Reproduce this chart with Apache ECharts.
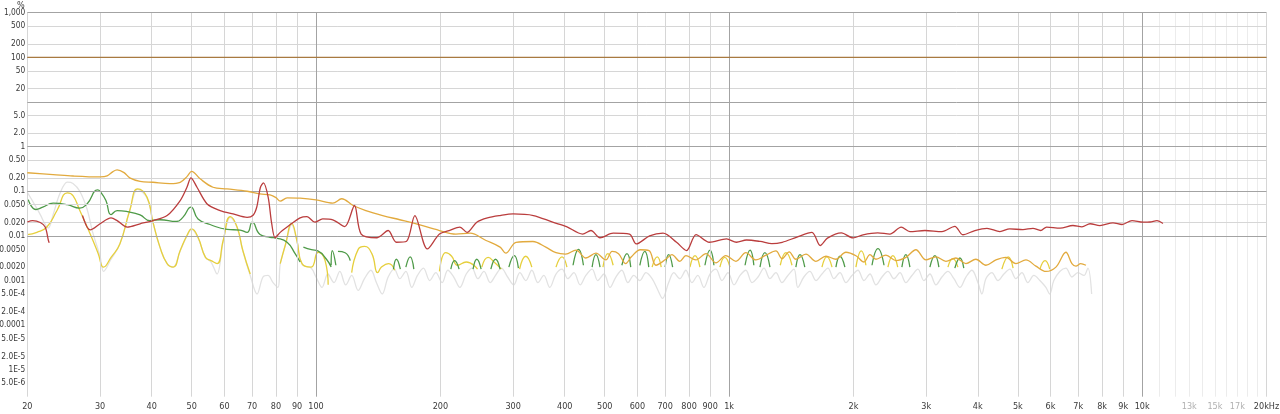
<!DOCTYPE html>
<html><head><meta charset="utf-8">
<script src="https://cdn.jsdelivr.net/npm/echarts@6/dist/echarts.min.js"></script>
<style>html,body{margin:0;padding:0;background:#fff}#c{width:1280px;height:414px}</style>
</head><body><div id="c"></div>
<script>
// ---------- tick labels ----------
const xTickValues = [20,30,40,50,60,70,80,90,100,200,300,400,500,600,700,800,900,1000,2000,3000,4000,5000,6000,7000,8000,9000,10000,13000,15000,17000,20000];
const xTickLabels = ['20','30','40','50','60','70','80','90','100','200','300','400','500','600','700','800','900','1k','2k','3k','4k','5k','6k','7k','8k','9k','10k','13k','15k','17k','20kHz'];
const xFaintLabels = ['13k','15k','17k'];
const yTickValues = [1000,500,200,100,50,20,5,2,1,0.5,0.2,0.1,0.05,0.02,0.01,0.005,0.002,0.001,5e-4,2e-4,1e-4,5e-5,2e-5,1e-5,5e-6];
const yTickLabels = ['1,000','500','200','100','50','20','5.0','2.0','1','0.50','0.20','0.1','0.050','0.020','0.01','0.0050','0.0020','0.001','5.0E-4','2.0E-4','0.0001','5.0E-5','2.0E-5','1E-5','5.0E-6'];
// ---------- grid lines ----------
const xGridMajor = [100,1000,10000];
const xGridMinor = [20,30,40,50,60,70,80,90,200,300,400,500,600,700,800,900,2000,3000,4000,5000,6000,7000,8000,9000,20000];
const xGridFaint = [11000,12000,13000,14000,15000,16000,17000,18000,19000];
const yGridMajor = [1000,100,10,1,0.1,0.01,0.001,1e-4,1e-5];
const yGridMinor = [500,200,50,20,5,2,0.5,0.2,0.05,0.02,0.005,0.002,5e-4,2e-4,5e-5,2e-5,5e-6];

// ---------- series (frequency Hz, distortion %) ----------
const fundamental = [[[20,100],[20000,100]]];

const thd = [[
 [20,0.26],[23.1,0.237],[25.8,0.22],[30,0.21],[31.2,0.22],[32.25,0.276],[33.0,0.30],[34.3,0.262],[35.4,0.20],[37.5,0.167],[40.3,0.159],[44.3,0.149],[46.9,0.159],[48.7,0.213],[50.0,0.28],[52.4,0.19],[56.3,0.123],[60.9,0.113],[68.1,0.10],[73.2,0.087],[77.4,0.083],[80,0.072],[81.9,0.06],[85.1,0.071],[91.5,0.07],[100,0.064],[109.8,0.054],[115.4,0.068],[123,0.048],[132,0.037],[145,0.0286],[159.5,0.023],[174,0.0188],[199,0.0132],[218,0.011],[236,0.0115],[258,0.0079],[279,0.0056],[288,0.0041],[305,0.0072],[335,0.0075],[360,0.0056],[381,0.0042],[402,0.0039],
 [426,0.0048],[450,0.0032],[476,0.0041],[503,0.0029],[521,0.0045],[540,0.0040],[562,0.0024],[580,0.0034],[610,0.0049],[640,0.0047],[665,0.0022],[703,0.0030],[727,0.0038],[760,0.0027],[786,0.0036],[831,0.0029],[879,0.0040],[929,0.0025],[982,0.0036],[1039,0.0027],[1098,0.0042],[1161,0.0029],[1228,0.0037],[1298,0.0046],[1343,0.0031],[1398,0.0044],[1451,0.0030],[1535,0.0039],[1623,0.0027],[1716,0.0035],[1814,0.0030],[1918,0.0043],[2028,0.0036],[2121,0.0026],[2193,0.0038],[2267,0.0030],[2397,0.0037],[2534,0.0028],[2679,0.0033],[2833,0.0049],[2996,0.0029],[3167,0.0034],[3349,0.0027],[3541,0.0032],[3744,0.0024],[3958,0.0030],[4185,0.0022],[4426,0.0029],[4680,0.0033],[4947,0.0024],[5231,0.0029],[5531,0.0021],[5848,0.0016],[6183,0.0020],[6537,0.0043],[6760,0.0024],[6912,0.0021],[7100,0.0024],[7310,0.0022]
]];

const h2 = [
 [[20,0.0205],[20.6,0.022],[21.5,0.020],[22.1,0.0158],[22.5,0.0079],[22.6,0.007]],
 [[27.2,0.0286],[27.9,0.0158],[28.4,0.0137],[30,0.0187],[31.9,0.0253],[33.0,0.022],[34.9,0.0158],[37.5,0.0187],[40.3,0.022],[43.6,0.0286],[46.9,0.062],[48.7,0.123],[49.8,0.20],[51.5,0.123],[54.5,0.052],[58.6,0.037],[63.0,0.031],[68.1,0.026],[70.4,0.029],[71.9,0.045],[73.3,0.12],[74.6,0.154],[76.6,0.073],[78.1,0.019],[79.6,0.0091],[81.9,0.012],[85.1,0.0158],[91.5,0.0253],[95.1,0.027],[99.4,0.0203],[103.8,0.024],[109.8,0.023],[117.4,0.0162],[123.9,0.048],[128.6,0.011],[140.5,0.0091],[149.5,0.0132],[156.5,0.0072],[165.7,0.0076],[173.5,0.0286],[186,0.0051],[199,0.011],[210,0.0132],[223,0.0158],[232,0.012],[245,0.0203],[260,0.0253],[279,0.0286],[300,0.031],[336,0.0286],[374,0.0203],[404,0.0162],[442,0.011],[463,0.0132],[487,0.0091],[524,0.0115],[574,0.011],[596,0.0066],[642,0.010],[692,0.0115],[746,0.0072],[789,0.0047],[832,0.0107],[896,0.0072],[986,0.0086],[1042,0.0072],[1102,0.0081],[1190,0.0075],[1270,0.0067],[1345,0.0072],[1455,0.0093],[1587,0.012],[1662,0.0061],[1730,0.0089],[1870,0.0117],[1995,0.009],[2110,0.0106],[2290,0.0117],[2450,0.011],[2610,0.0158],[2740,0.0125],[2980,0.0132],[3275,0.0125],[3520,0.0164],[3680,0.0106],[3936,0.0132],[4210,0.0148],[4526,0.0125],[4780,0.0144],[5145,0.0138],[5440,0.0148],[5680,0.0132],[5870,0.0158],[6330,0.015],[6800,0.0171],[7150,0.016],[7480,0.0187],[7900,0.017],[8500,0.0196],[8940,0.018],[9450,0.0221],[10050,0.0203],[10450,0.0205],[10860,0.022],[11230,0.019]]
];

const h3 = [
 [[20.1,0.065],[21.0,0.039],[21.8,0.044],[23.1,0.054],[25.0,0.050],[26.8,0.042],[27.9,0.052],[29.6,0.107],[30,0.10],[31.0,0.062],[31.9,0.030],[33.0,0.037],[34.9,0.035],[37.5,0.0295],[39.6,0.022],[41.9,0.023],[45.9,0.021],[47.6,0.026],[49.8,0.044],[51.8,0.024],[55.4,0.018],[60.9,0.014],[65.5,0.0135],[68.1,0.012],[70.1,0.0203],[73.2,0.0107],[77.4,0.0093],[80.3,0.0089],[85.1,0.0072],[89.0,0.004],[91.5,0.0026]],
 [[93.2,0.0056],[97.5,0.0049],[101,0.0046],[106,0.0030],[108.8,0.002]],
 [[108.8,0.0022],[109.5,0.0047],[111.7,0.0022]],
 [[113,0.0045],[117.6,0.0042],[121,0.0028]],
 [[154,0.0018],[156.5,0.003],[160,0.0018]],
 [[165,0.0020],[169,0.0034],[172.5,0.0018]],
 [[212,0.0018],[216.5,0.0028],[222,0.0018]],
 [[240,0.0018],[245,0.003],[251,0.0018]],
 [[265,0.0018],[272,0.003],[279,0.0018]],
 [[293,0.0020],[302,0.0036],[309,0.0019]],
 [[419,0.0022],[432,0.005],[444,0.0022]],
 [[466,0.0020],[476,0.0038],[487,0.0020]],
 [[550,0.0022],[566,0.0040],[578,0.0020]],
 [[608,0.0022],[625,0.0045],[639,0.0020]],
 [[700,0.0020],[714,0.0038],[730,0.0020]],
 [[874,0.0022],[899,0.0048],[919,0.0022]],
 [[1093,0.0022],[1124,0.0048],[1148,0.0022]],
 [[1188,0.0020],[1221,0.0042],[1256,0.0020]],
 [[1451,0.0020],[1485,0.0038],[1525,0.0020]],
 [[1814,0.0020],[1855,0.0035],[1907,0.0020]],
 [[2218,0.0022],[2293,0.0052],[2372,0.0022]],
 [[2620,0.0020],[2679,0.0038],[2740,0.0020]],
 [[3063,0.0020],[3150,0.0036],[3220,0.0020]],
 [[3520,0.0019],[3621,0.0032],[3700,0.0019]]
];

const h4 = [
 [[20,0.0107],[21.1,0.012],[22.3,0.0158],[23.6,0.037],[25.0,0.092],[25.8,0.08],[26.8,0.037],[28.4,0.011],[29.7,0.004],[30.6,0.002],[31.9,0.0033],[33.5,0.0066],[35.4,0.037],[37.0,0.113],[39.0,0.073],[40.3,0.0203],[41.9,0.0056],[43.6,0.0024],[45.1,0.002],[46.9,0.0047],[48.7,0.0102],[50.0,0.0144],[51.8,0.0093],[54.0,0.0033],[55.7,0.0028],[57.6,0.0024],[59.6,0.0079],[62.0,0.027],[64.4,0.0158],[66.5,0.0047],[69.3,0.0014]],
 [[81.9,0.0024],[84.4,0.0066],[87.3,0.019],[89.9,0.0079],[92.5,0.0024],[97.3,0.002],[101.2,0.0043],[105.2,0.0028],[107,0.0008]],
 [[122,0.0015],[126.5,0.005],[131,0.0058],[136.5,0.004],[141,0.0015],[144,0.0020],[150,0.0024],[155,0.0017]],
 [[199,0.0016],[206,0.0042],[213,0.0035],[220,0.0022],[231,0.0026],[246,0.0018]],
 [[252,0.0020],[261,0.0033],[271,0.0025],[281,0.0018]],
 [[311,0.0018],[322,0.0035],[333,0.0020]],
 [[381,0.0020],[394,0.0034],[405,0.0020]],
 [[495,0.0020],[509,0.0040],[524,0.0022]],
 [[651,0.0020],[670,0.0034],[685,0.0020]],
 [[804,0.0020],[827,0.0036],[850,0.0020]],
 [[950,0.0020],[976,0.0033],[1005,0.0020]],
 [[1330,0.0022],[1373,0.0042],[1420,0.0022]],
 [[1678,0.0020],[1725,0.0034],[1775,0.0020]],
 [[2028,0.0020],[2090,0.0046],[2144,0.0022]],
 [[2424,0.0020],[2492,0.0036],[2560,0.0020]],
 [[3387,0.0020],[3480,0.0031],[3580,0.0020]],
 [[4575,0.0018],[4740,0.0034],[4870,0.0019]],
 [[5655,0.0018],[5820,0.0028],[5973,0.0018]]
];

const h5 = [[
 [20,0.095],[20.6,0.06],[21.5,0.03],[22.1,0.018],[22.5,0.015],[23.1,0.03],[24.0,0.09],[25.0,0.16],[25.8,0.15],[26.8,0.10],[27.9,0.04],[28.8,0.012],[30,0.0035],[30.6,0.0016],[31.9,0.003],[33.5,0.0066],[35.4,0.037],[37.0,0.11],[39.0,0.07],[40.3,0.02],[41.9,0.0055],[43.6,0.0024],[45.1,0.002],[46.9,0.0046],[48.7,0.01],[50.0,0.014],[51.8,0.009],[54.0,0.0033],[55.7,0.0026],[57.6,0.0014],[59.6,0.0075],[62.0,0.026],[64.4,0.0155],[66.5,0.0046],[69.3,0.0013],[72.0,0.0005],[74.4,0.0012],[76.5,0.0013],[78.7,0.0009],[80.9,0.0007],[81.9,0.0023],[84.4,0.0064],[87.3,0.018],[89.9,0.0077],[92.5,0.0023],[97.3,0.0019],[100,0.0012],
 [103.4,0.0007],[106.8,0.0014],[110.5,0.0009],[114.2,0.0016],[118,0.0008],[122,0.0013],[126.5,0.0006],[131,0.0011],[135.8,0.0017],[140,0.0009],[144.6,0.0005],[149.5,0.0012],[154.7,0.0018],[159.5,0.0011],[165,0.0016],[170.5,0.0007],[176,0.0013],[182,0.0019],[188.5,0.0010],[195,0.0015],[202,0.0009],[208.5,0.0017],[215.5,0.0012],[223,0.0007],[231,0.0014],[238.5,0.0019],[246.5,0.0011],[255,0.0016],[264,0.0009],[272,0.0013],[281,0.0019],[291,0.0012],[301,0.0008],[311.5,0.0015],[322,0.0010],[333,0.0017],[344.5,0.0009],[356,0.0013],[368,0.0007],[381,0.0014],[394,0.0018],[407,0.0011],[421,0.0015],[436,0.0008],[450,0.0013],[466,0.0018],[481,0.0010],[498,0.0014],[515,0.0007],[532,0.0012],[550,0.0017],[569,0.0009],[588,0.0013],[608,0.0010],[629,0.0015],[651,0.0011],[673,0.0006],[690,0.0004],[714,0.0009],[735,0.0015],[760,0.0011],[786,0.0017],[813,0.0009],[840,0.0013],[869,0.0007],[899,0.0014],[929,0.0018],[961,0.0010],[994,0.0015],[1028,0.0008],[1063,0.0013],[1098,0.0017],[1136,0.0009],[1175,0.0012],[1215,0.0019],[1256,0.0011],[1298,0.0015],[1343,0.0009],[1388,0.0013],[1436,0.0018],[1467,0.0007],[1517,0.0012],[1569,0.0016],[1623,0.0010],[1678,0.0014],[1735,0.0019],[1794,0.0011],[1855,0.0015],[1918,0.0009],[1984,0.0013],[2051,0.0017],[2121,0.0010],[2193,0.0014],[2267,0.0008],[2345,0.0012],[2424,0.0016],[2507,0.0011],[2592,0.0015],[2679,0.0009],[2771,0.0013],[2865,0.0018],[2963,0.0010],[3063,0.0014],[3167,0.0008],[3275,0.0012],[3387,0.0016],[3502,0.0011],[3621,0.0007],[3744,0.0012],[3871,0.0017],[4003,0.0009],[4093,0.0005],[4185,0.0011],[4327,0.0015],[4475,0.0010],[4627,0.0014],[4784,0.0018],[4947,0.0011],[5115,0.0015],[5289,0.0009],[5469,0.0013],[5655,0.0010],[5848,0.0007],[5973,0.0005],[6111,0.0010],[6318,0.0016],[6537,0.0019],[6760,0.0012],[6990,0.0015],[7228,0.0013],[7390,0.0019],[7546,0.0005]
]];

// ---------- build ----------
function joinSegments(segs){
  const out=[];
  segs.forEach((s,i)=>{ if(i>0) out.push([s[0][0], null]); s.forEach(p=>out.push(p)); });
  return out;
}
const COL = {grid:'#d6d6d6', major:'#a3a3a3', faint:'#ececec', text:'#3a3a3a', faintText:'#b0b0b0'};
const gridLines = [];
xGridMinor.forEach(v=>gridLines.push({xAxis:v, lineStyle:{color:COL.grid,width:1,type:'solid'}}));
xGridFaint.forEach(v=>gridLines.push({xAxis:v, lineStyle:{color:COL.faint,width:1,type:'solid'}}));
yGridMinor.forEach(v=>gridLines.push({yAxis:v, lineStyle:{color:COL.grid,width:1,type:'solid'}}));
xGridMajor.forEach(v=>gridLines.push({xAxis:v, lineStyle:{color:COL.major,width:1,type:'solid'}}));
yGridMajor.forEach(v=>gridLines.push({yAxis:v, lineStyle:{color:COL.major,width:1,type:'solid'}}));

function lineSeries(name, segs, color, z, smooth){
  return {name, type:'line', data:joinSegments(segs), showSymbol:false, symbol:'none', smooth:smooth,
    connectNulls:false, lineStyle:{color, width:1.3}, itemStyle:{color}, z, silent:true, animation:false};
}
const FONT = '"Liberation Sans Narrow", "DejaVu Sans Condensed", "Roboto Condensed", Roboto, sans-serif';
const chart = echarts.init(document.getElementById('c'), null, {renderer:'canvas'});
chart.setOption({
  backgroundColor:'#ffffff',
  animation:false,
  grid:{left:27.3, right:13.5, top:12.7, bottom:17.3, containLabel:false, outerBoundsMode:'none'},
  xAxis:{type:'log', logBase:10, min:20, max:20000,
    axisLine:{show:false}, axisTick:{show:false, customValues:xTickValues}, splitLine:{show:false},
    axisLabel:{customValues:xTickValues, interval:0, margin:5, fontSize:9, fontFamily:FONT, hideOverlap:false,
      formatter:(v)=>{const i=xTickValues.findIndex(t=>Math.abs(t-v)/t<1e-6); return i>=0?xTickLabels[i]:'';},
      color:(v)=>{const i=xTickValues.findIndex(t=>Math.abs(t-v)/t<1e-6); return (i>=0 && xFaintLabels.includes(xTickLabels[i]))?COL.faintText:COL.text;}}},
  yAxis:{type:'log', logBase:10, min:2.5e-6, max:1000,
    axisLine:{show:false}, axisTick:{show:false, customValues:yTickValues}, splitLine:{show:false},
    axisLabel:{customValues:yTickValues, interval:0, margin:2, fontSize:8.3, fontFamily:FONT, color:COL.text, hideOverlap:false,
      formatter:(v)=>{const i=yTickValues.findIndex(t=>Math.abs(t-v)/t<1e-6); return i>=0?yTickLabels[i]:'';}}},
  graphic:[{type:'text', left:17, top:1, style:{text:'%', font:'9px '+FONT, fill:COL.text}}],
  series:[
    {type:'line', data:[], z:1, silent:true, markLine:{symbol:['none','none'], silent:true, animation:false, label:{show:false}, emphasis:{disabled:true}, data:gridLines}},
    lineSeries('H5', h5, '#e2e2e2', 2, 0.35),
    lineSeries('H4', h4, '#e6cf3c', 3, 0.5),
    lineSeries('H3', h3, '#4e9a48', 4, 0.5),
    lineSeries('THD', thd, '#e2aa3e', 5, 0.35),
    lineSeries('H2', h2, '#ba3d3d', 6, 0.3),
    lineSeries('Fundamental', fundamental, '#a87a40', 6, false)
  ]
});
</script></body></html>
